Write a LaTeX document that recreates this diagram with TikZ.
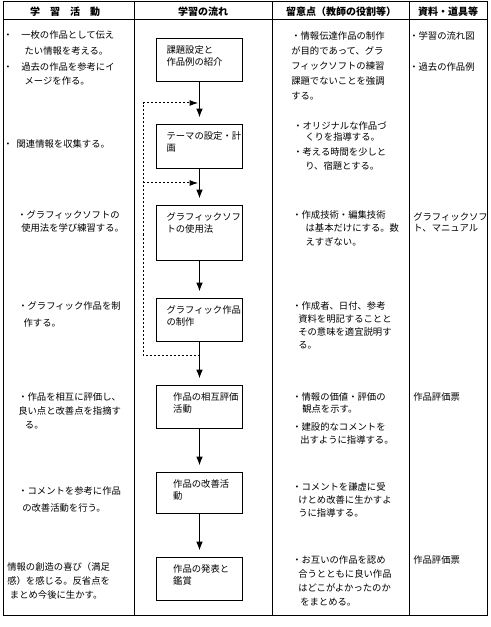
\documentclass[tikz,border=0pt]{standalone}
\usepackage{fontspec}
\setmainfont{Noto Sans CJK JP}
\usetikzlibrary{arrows.meta}

\begin{document}
\begin{tikzpicture}[x=0.75pt,y=-0.75pt,
  cell/.style={line width=0.75pt},
  hdr/.style={font=\fontsize{7.5pt}{9pt}\selectfont\bfseries,inner sep=0pt},
  txt/.style={font=\fontsize{7pt}{#1}\selectfont,anchor=base west,inner sep=0pt,text width=95pt,align=left},
  txt/.default=10.5pt,
  flowbox/.style={draw,line width=0.75pt,anchor=north west,font=\fontsize{7pt}{9pt}\selectfont,text width=49.5pt,align=left,inner xsep=7.5pt,inner ysep=0pt,text height=11.25pt,text depth=#1},
  flowbox/.default=21pt,
  flowarr/.style={line width=0.75pt,-{Latex[length=6.5pt,width=5pt]},shorten >=5pt},
  loopline/.style={line width=0.75pt,dash pattern=on 1.5pt off 1.5pt},
  loopin/.style={loopline,-{Latex[length=6.5pt,width=4.5pt]},shorten >=1pt}]
\useasboundingbox (0,0) rectangle (490,627);
\draw[cell] (3,2) rectangle (487,615);
\draw[cell] (3,20) -- (487,20);
\foreach \x in {134,272,409} {
   \draw[cell] (\x,2) -- (\x,615);
}
\node[hdr] (h1) at (65,12) {学　習　活　動};
\node[hdr] (h2) at (203,12) {学習の流れ};
\node[hdr] (h3) at (341,12) {留意点（教師の役割等）};
\node[hdr] (h4) at (448,12) {資料・道具等};
% flow
\node[flowbox] (b1) at (156,38) {課題設定と\\作品例の紹介};
\node[flowbox=21.75pt] (b2) at (156,124) {テーマの設定・計\\画};
\node[flowbox=30pt] (b3) at (156,205) {グラフィックソフ\\トの使用法};
\node[flowbox] (b4) at (156,298) {グラフィック作品\\の制作};
\node[flowbox] (b5) at (156,385) {\hspace*{5pt}作品の相互評価\\\hspace*{5pt}活動};
\node[flowbox=19.5pt] (b6) at (156,472) {\hspace*{5pt}作品の改善活\\\hspace*{5pt}動};
\node[flowbox] (b7) at (156,557) {\hspace*{5pt}作品の発表と\\\hspace*{5pt}鑑賞};
\foreach \a/\b in {b1/b2,b2/b3,b3/b4,b4/b5,b5/b6,b6/b7} {
   \draw[flowarr] (\a.south) -- (\b.north);
}
\coordinate (loopA) at (143,103);
\coordinate (loopB) at (143,183);
\coordinate (loopC) at (143,355);
\draw[loopline] (b4.south |- loopC) -- (loopC) -- (loopA);
\draw[loopin] (loopA) -- (loopA -| b1.south);
\draw[loopin] (loopB) -- (loopB -| b2.south);
% activities
\node[txt=12pt] (a1) at (3,38.5) {・\hspace{6.5pt}一枚の作品として伝え\\\hspace*{16pt}たい情報を考える。};
\node[txt] (a2) at (3,70.5) {・\hspace{6.5pt}過去の作品を参考にイ\\\hspace*{16pt}メージを作る。};
\node[txt] (a3) at (3,147.5) {・\hspace{3pt}関連情報を収集する。};
\node[txt=9.75pt] (a4) at (17,218.5) {・グラフィックソフトの\\\hspace*{3pt}使用法を学び練習する。};
\node[txt=12.75pt] (a5) at (18,309.5) {・グラフィック作品を制\\\hspace*{4pt}作する。};
\node[txt] (a6) at (18,400.5) {・作品を相互に評価し、\\良い点と改善点を指摘す\\\hspace*{5pt}る。};
\node[txt=12.75pt] (a7) at (18,494.5) {・コメントを参考に作品\\\hspace*{3pt}の改善活動を行う。};
\node[txt] (a8) at (7,570.5) {情報の創造の喜び（満足\\感）を感じる。反省点を\\\hspace*{2pt}まとめ今後に生かす。};
% points
\node[txt=11.25pt] (c1) at (291,39.5) {・情報伝達作品の制作\\が目的であって、グラ\\フィックソフトの練習\\課題でないことを強調\\する。};
\node[txt=8pt] (c2) at (293,129.5) {・オリジナルな作品づ\\\hspace*{9pt}くりを指導する。};
\node[txt] (c3) at (293,155.5) {・考える時間を少しと\\\hspace*{9pt}り、宿題とする。};
\node[txt=10pt] (c4) at (292,218.5) {・作成技術・編集技術\\\hspace*{10pt}は基本だけにする。数\\\hspace*{10pt}えすぎない。};
\node[txt=9.75pt] (c5) at (292,309.5) {・作成者、日付、参考\\\hspace*{4.5pt}資料を明記することと\\\hspace*{4.5pt}その意味を適宜説明す\\\hspace*{4.5pt}る。};
\node[txt=9pt] (c6) at (292,400.5) {・情報の価値・評価の\\\hspace*{7.5pt}観点を示す。};
\node[txt=9.75pt] (c7) at (292,430.5) {・建設的なコメントを\\\hspace*{6pt}出すように指導する。};
\node[txt=9.75pt] (c8) at (292,490.5) {・コメントを謙虚に受\\\hspace*{4.5pt}けとめ改善に生かすよ\\\hspace*{4.5pt}うに指導する。};
\node[txt] (c9) at (292,563.5) {・お互いの作品を認め\\\hspace*{4.5pt}合うとともに良い作品\\\hspace*{4.5pt}はどこがよかったのか\\\hspace*{6pt}をまとめる。};
% materials
\node[txt] (d1) at (409,39.5) {・学習の流れ図};
\node[txt] (d2) at (409,70.5) {・過去の作品例};
\node[txt=8.5pt] (d3) at (413,220.5) {グラフィックソフ\\ト、マニュアル};
\node[txt] (d4) at (413,400.5) {作品評価票};
\node[txt] (d5) at (413,563.5) {作品評価票};
\end{tikzpicture}
\end{document}
